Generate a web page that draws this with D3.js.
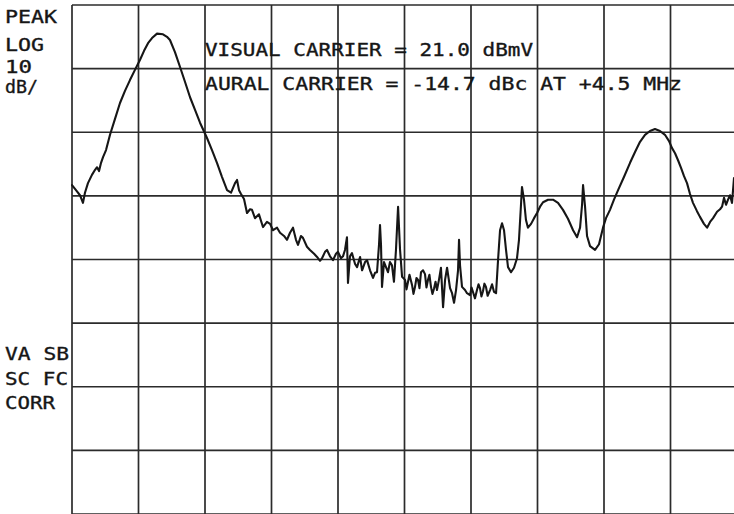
<!DOCTYPE html>
<html><head><meta charset="utf-8">
<script src="https://cdn.jsdelivr.net/npm/d3@7"></script>
<style>html,body{margin:0;padding:0;background:#fff}svg{display:block}</style>
</head><body>
<svg id="c" width="734" height="514"></svg>
<script>
// Frequency across the 6 MHz span (MHz from left edge) and level (dBmV)
const freqMHz = [
0.000,0.036,0.072,0.099,0.117,0.144,0.180,0.208,0.226,0.244,
0.262,0.280,0.307,0.343,0.388,0.433,0.478,0.523,0.568,0.614,
0.650,0.686,0.722,0.767,0.821,0.857,0.884,0.929,0.974,1.020,
1.065,1.110,1.155,1.218,1.263,1.308,1.353,1.399,1.435,1.471,
1.489,1.507,1.525,1.552,1.579,1.606,1.624,1.651,1.687,1.723,
1.759,1.787,1.814,1.850,1.877,1.913,1.940,1.967,1.994,2.021,
2.039,2.066,2.084,2.120,2.147,2.184,2.211,2.238,2.256,2.283,
2.301,2.328,2.355,2.382,2.400,2.427,2.445,2.463,2.481,2.490,
2.508,2.526,2.554,2.572,2.599,2.617,2.626,2.644,2.662,2.689,
2.716,2.734,2.752,2.770,2.779,2.788,2.797,2.815,2.851,2.869,
2.887,2.905,2.923,2.942,2.960,2.978,3.005,3.018,3.032,3.045,3.068,3.081,3.095,3.108,
3.122,3.135,3.149,3.167,3.185,3.198,3.212,3.225,3.239,3.252,3.266,3.280,3.293,3.311,3.329,
3.348,3.366,3.384,3.411,3.429,3.447,3.465,3.483,3.492,3.501,
3.519,3.546,3.564,3.591,3.605,3.618,3.636,3.654,3.668,3.681,3.694,3.708,3.721,3.735,3.750,3.772,3.790,
3.808,3.826,3.844,3.862,3.880,3.898,3.916,3.934,3.961,3.988,
4.015,4.033,4.051,4.060,4.078,4.096,4.114,4.142,4.169,4.196,
4.223,4.250,4.295,4.340,4.385,4.430,4.475,4.521,4.557,4.584,
4.602,4.611,4.629,4.647,4.674,4.719,4.755,4.791,4.818,4.854,
4.890,4.927,4.981,5.035,5.080,5.125,5.170,5.215,5.260,5.305,
5.350,5.387,5.414,5.441,5.468,5.495,5.522,5.549,5.576,5.603,
5.639,5.666,5.702,5.730,5.757,5.784,5.820,5.847,5.865,5.883,
5.901,5.919,5.937,5.955,5.973];
const levelDbmV = [
-2.8,-3.6,-4.4,-5.6,-4.0,-2.5,-1.2,-0.4,0.0,-0.6,
0.7,1.6,2.7,5.1,7.6,10.1,12.0,13.7,15.3,16.9,
18.3,19.5,20.3,21.0,20.9,20.5,20.0,18.1,15.8,13.4,
11.0,9.0,7.0,4.6,2.7,0.7,-1.5,-3.6,-4.0,-2.5,
-2.0,-3.6,-4.2,-5.0,-7.2,-6.6,-6.7,-8.0,-7.4,-9.4,
-8.6,-8.9,-9.9,-9.5,-10.3,-10.8,-11.4,-10.3,-9.5,-11.4,
-12.2,-10.8,-11.1,-12.5,-13.0,-13.6,-14.1,-14.7,-14.3,-13.3,
-13.0,-14.0,-14.6,-13.6,-13.3,-14.3,-14.0,-13.0,-11.0,-18.2,
-14.0,-13.5,-15.2,-15.7,-14.1,-16.2,-15.8,-14.9,-14.6,-16.2,
-17.4,-16.6,-16.5,-12.2,-9.1,-12.2,-18.8,-14.9,-16.5,-14.9,
-15.4,-18.0,-13.0,-6.2,-13.0,-17.2,-17.7,-19.2,-18.0,-16.9,-18.5,-19.9,-18.8,-17.4,
-17.7,-19.0,-16.5,-16.2,-16.8,-18.9,-17.7,-16.9,-18.8,-19.9,-19.1,-18.0,-19.3,-17.7,-15.8,
-22.0,-17.7,-15.8,-19.0,-19.8,-21.3,-19.3,-16.2,-11.4,-15.4,
-18.8,-19.3,-19.8,-20.1,-18.9,-19.6,-20.6,-19.3,-18.4,-19.0,-20.3,-19.5,-18.3,-18.8,-20.2,-19.3,-18.4,
-19.6,-19.8,-14.6,-9.9,-8.8,-9.9,-13.0,-15.7,-16.5,-15.8,
-14.3,-11.4,-5.9,-3.1,-5.1,-8.3,-9.5,-8.9,-8.0,-7.2,
-6.2,-5.5,-5.1,-5.1,-5.6,-6.7,-8.1,-9.9,-11.0,-9.5,
-5.9,-2.8,-6.2,-10.8,-12.4,-13.0,-12.1,-9.5,-8.0,-6.7,
-5.1,-3.6,-1.5,0.7,2.4,4.0,5.1,5.7,6.0,5.7,
5.1,4.1,3.0,2.2,1.1,-0.1,-1.4,-2.5,-4.2,-5.6,
-6.9,-7.8,-8.9,-9.5,-8.6,-8.0,-7.0,-6.6,-6.2,-4.8,
-5.9,-5.1,-4.4,-5.6,-1.7];
// Graticule: 10 horizontal divisions of 0.6 MHz, 8 vertical divisions of 10 dB
const freqGrid = [0,0.6,1.2,1.8,2.4,3.0,3.6,4.2,4.8,5.4,6.0];
const levelGrid = [25.5,15.5,5.5,-4.5,-14.5,-24.5,-34.5,-44.5,-54.5];
const topLabels = ["PEAK","LOG","10","dB/"];
const lowerLabels = ["VA SB","SC FC","CORR"];
const annotations = ["VISUAL CARRIER = 21.0 dBmV","AURAL CARRIER = -14.7 dBc AT +4.5 MHz"];

const svg = d3.select("#c");
const L = 72, R = 737, T = 5, B = 514;
const x = d3.scaleLinear().domain([0, 6]).range([L, R]);
const y = d3.scaleLinear().domain([-54.5, 25.5]).range([B, T]);
const ink = "#161616";

const grid = svg.append("g").attr("stroke", "#2b2b2b").attr("stroke-width", 1.7);
grid.selectAll("line.v").data(freqGrid).join("line").attr("class","v")
  .attr("x1", d => x(d)).attr("x2", d => x(d)).attr("y1", T).attr("y2", B);
grid.selectAll("line.h").data(levelGrid).join("line").attr("class","h")
  .attr("x1", L).attr("x2", R).attr("y1", d => y(d)).attr("y2", d => y(d));

const pts = freqMHz.map((f, i) => [f, levelDbmV[i]]);
svg.append("path").datum(pts)
  .attr("fill", "none").attr("stroke", ink).attr("stroke-width", 2.1)
  .attr("stroke-linejoin", "round").attr("stroke-linecap", "round")
  .attr("d", d3.line().x(d => x(d[0])).y(d => y(d[1])));

const font = "'DejaVu Sans Mono', 'Liberation Mono', monospace";
const txt = svg.append("g").attr("fill", ink).attr("stroke", ink).attr("stroke-width", 0.35)
  .attr("font-family", font).attr("font-size", 17.5);
const topBase = [23, 51, 73, 93];
const topW = [52, 39, 27, 33];
txt.selectAll("text.t").data(topLabels).join("text").attr("class","t")
  .attr("x", 5).attr("y", (d,i) => topBase[i]).attr("textLength", (d,i) => topW[i])
  .attr("lengthAdjust", "spacingAndGlyphs").text(d => d);
const lowBase = [360, 385, 409];
const lowW = [64, 63, 50];
txt.selectAll("text.l").data(lowerLabels).join("text").attr("class","l")
  .attr("x", 5).attr("y", (d,i) => lowBase[i]).attr("textLength", (d,i) => lowW[i])
  .attr("lengthAdjust", "spacingAndGlyphs").text(d => d);
const annBase = [56, 90];
const annW = [328, 477];
txt.selectAll("text.a").data(annotations).join("text").attr("class","a")
  .attr("x", 205).attr("y", (d,i) => annBase[i]).attr("textLength", (d,i) => annW[i])
  .attr("lengthAdjust", "spacingAndGlyphs").attr("font-size", 17).text(d => d);
</script>
</body></html>
